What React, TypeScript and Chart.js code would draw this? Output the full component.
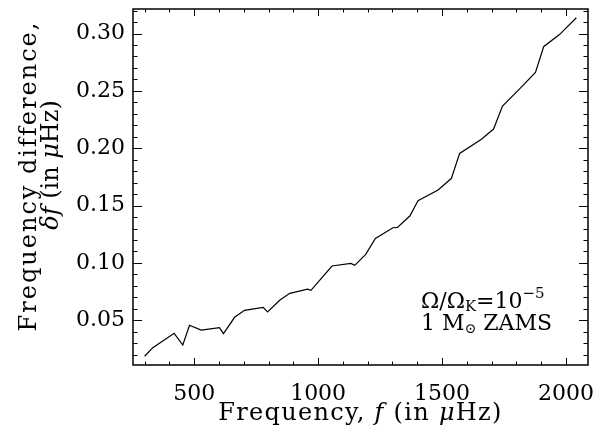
import { useEffect, useRef } from "react";
import { Chart, registerables } from "chart.js";

Chart.register(...registerables);

// Frequency f (μHz) and frequency difference δf (μHz)
const frequencies = [
  300, 333, 419, 454, 481, 528, 602, 618, 663, 703, 778, 796, 846, 886, 957, 971,
  1056, 1132, 1148, 1192, 1231, 1302, 1320, 1370, 1403, 1484, 1538, 1571, 1659,
  1708, 1744, 1815, 1877, 1910, 1975, 2042,
];
const deltas = [
  0.0186, 0.0261, 0.0386, 0.0284, 0.0456, 0.0415, 0.0435, 0.0383, 0.0526, 0.0587,
  0.0613, 0.0572, 0.0677, 0.0735, 0.0772, 0.0761, 0.0973, 0.0996, 0.0979, 0.1075,
  0.1214, 0.1307, 0.131, 0.1409, 0.1542, 0.1636, 0.1738, 0.1955, 0.2078, 0.2167,
  0.2368, 0.2522, 0.266, 0.2885, 0.2993, 0.3138,
];

const xTickValues = [500, 1000, 1500, 2000];
const yTickValues = [0.05, 0.1, 0.15, 0.2, 0.25, 0.3];
const xMinorStep = 100;
const yMinorStep = 0.01;
const xRange = [253, 2089];
const yRange = [0.011, 0.3214];

const xTitle = [
  { t: "Frequency, ", s: "normal" },
  { t: "f", s: "italic" },
  { t: " (in ", s: "normal" },
  { t: "μ", s: "italic" },
  { t: "Hz)", s: "normal" },
];
const yTitle1 = [{ t: "Frequency difference,", s: "normal" }];
const yTitle2 = [
  { t: "δf", s: "italic" },
  { t: " (in ", s: "normal" },
  { t: "μ", s: "italic" },
  { t: "Hz)", s: "normal" },
];

const FAMILY = '"DejaVu Serif", serif';
const SIZE = 22;
const TITLE_SIZE = 24;

type Seg = { t: string; s: string; size?: number; dy?: number };

function drawRich(
  ctx: any,
  segs: Seg[],
  x: number,
  y: number,
  align: "center" | "left",
  spacing = 0,
  baseSize = SIZE
) {
  const fontOf = (s: Seg) => `${s.s === "italic" ? "italic " : ""}${s.size ?? baseSize}px ${FAMILY}`;
  ctx.letterSpacing = `${spacing}px`;
  let total = 0;
  for (const s of segs) {
    ctx.font = fontOf(s);
    total += ctx.measureText(s.t).width;
  }
  let cx = align === "center" ? x - total / 2 : x;
  ctx.textAlign = "left";
  ctx.textBaseline = "alphabetic";
  for (const s of segs) {
    ctx.font = fontOf(s);
    ctx.fillText(s.t, cx, y + (s.dy ?? 0));
    cx += ctx.measureText(s.t).width;
  }
  ctx.letterSpacing = "0px";
}

const framePlugin = {
  id: "idlFrame",
  afterDraw(chart: any) {
    const { ctx, chartArea: a } = chart;
    const x = chart.scales.x;
    const y = chart.scales.y;
    ctx.save();
    ctx.strokeStyle = "#000";
    ctx.fillStyle = "#000";
    ctx.lineWidth = 1;
    const seg = (x1: number, y1: number, x2: number, y2: number) => {
      ctx.beginPath();
      ctx.moveTo(x1, y1);
      ctx.lineTo(x2, y2);
      ctx.stroke();
    };
    const xMaj = 7, xMin = 3.5, yMaj = 9, yMin = 4.5;
    for (let i = Math.ceil(x.min / xMinorStep); i * xMinorStep <= x.max; i++) {
      const v = i * xMinorStep;
      const px = Math.round(x.getPixelForValue(v)) + 0.5;
      const len = xTickValues.includes(v) ? xMaj : xMin;
      seg(px, a.bottom, px, a.bottom - len);
      seg(px, a.top, px, a.top + len);
    }
    for (let i = Math.ceil(y.min / yMinorStep - 1e-9); i * yMinorStep <= y.max + 1e-9; i++) {
      const v = i * yMinorStep;
      const py = Math.round(y.getPixelForValue(v)) + 0.5;
      const major = yTickValues.some((t) => Math.abs(t - v) < 1e-9);
      const len = major ? yMaj : yMin;
      seg(a.left, py, a.left + len, py);
      seg(a.right, py, a.right - len, py);
    }
    ctx.lineWidth = 1.5;
    ctx.strokeRect(a.left, a.top, a.right - a.left, a.bottom - a.top);

    // axis titles
    drawRich(ctx, xTitle, (a.left + a.right) / 2, 420, "center", 1.3, TITLE_SIZE);
    ctx.save();
    ctx.translate(36, 176);
    ctx.rotate(-Math.PI / 2);
    drawRich(ctx, yTitle1, 0, 0, "center", 2, TITLE_SIZE);
    ctx.restore();
    ctx.save();
    ctx.translate(58, 165);
    ctx.rotate(-Math.PI / 2);
    drawRich(ctx, yTitle2, 0, 0, "center", 0, TITLE_SIZE);
    ctx.restore();

    // annotation
    drawRich(
      ctx,
      [
        { t: "Ω/Ω", s: "normal" },
        { t: "K", s: "normal", size: 15, dy: 3 },
        { t: "=10", s: "normal" },
        { t: "−5", s: "normal", size: 15, dy: -10 },
      ],
      421,
      308,
      "left"
    );
    drawRich(
      ctx,
      [
        { t: "1 M", s: "normal" },
        { t: "⊙", s: "normal", size: 14, dy: 3 },
        { t: " ZAMS", s: "normal" },
      ],
      421,
      330,
      "left"
    );
    ctx.restore();
  },
};

const zeroPad = (s: any) => {
  s.paddingTop = 0;
  s.paddingBottom = 0;
  s.paddingLeft = 0;
  s.paddingRight = 0;
};

export default function App() {
  const ref = useRef<HTMLCanvasElement>(null);
  useEffect(() => {
    if (!ref.current) return;
    const chart = new Chart(ref.current, {
      type: "scatter",
      data: {
        datasets: [
          {
            data: frequencies.map((f, i) => ({ x: f, y: deltas[i] })),
            showLine: true,
            borderColor: "#000",
            borderWidth: 1.2,
            pointRadius: 0,
            tension: 0,
          },
        ],
      },
      options: {
        animation: false,
        responsive: false,
        devicePixelRatio: 1,
        layout: { padding: { top: 9, right: 13, left: 0, bottom: 0 } },
        plugins: { legend: { display: false }, tooltip: { enabled: false } },
        scales: {
          x: {
            type: "linear",
            min: xRange[0],
            max: xRange[1],
            grid: { display: false, drawTicks: false },
            border: { display: false },
            afterBuildTicks: (s: any) => {
              s.ticks = xTickValues.map((v) => ({ value: v }));
            },
            afterFit: (s: any) => {
              s.height = 70;
              zeroPad(s);
            },
            ticks: {
              color: "#000",
              padding: 16,
              maxRotation: 0,
              font: { family: FAMILY, size: SIZE },
              callback: (v: any) => String(v),
            },
          },
          y: {
            type: "linear",
            min: yRange[0],
            max: yRange[1],
            grid: { display: false, drawTicks: false },
            border: { display: false },
            afterBuildTicks: (s: any) => {
              s.ticks = yTickValues.map((v) => ({ value: v }));
            },
            afterFit: (s: any) => {
              s.width = 133;
              zeroPad(s);
            },
            ticks: {
              color: "#000",
              padding: 8,
              font: { family: FAMILY, size: SIZE },
              callback: (v: any) => Number(v).toFixed(2),
            },
          },
        },
      },
      plugins: [framePlugin],
    });
    return () => chart.destroy();
  }, []);
  return (
    <div style={{ position: "absolute", left: 0, top: 0, width: 601, height: 435, background: "#fff" }}>
      <canvas ref={ref} width={601} height={435} />
    </div>
  );
}
